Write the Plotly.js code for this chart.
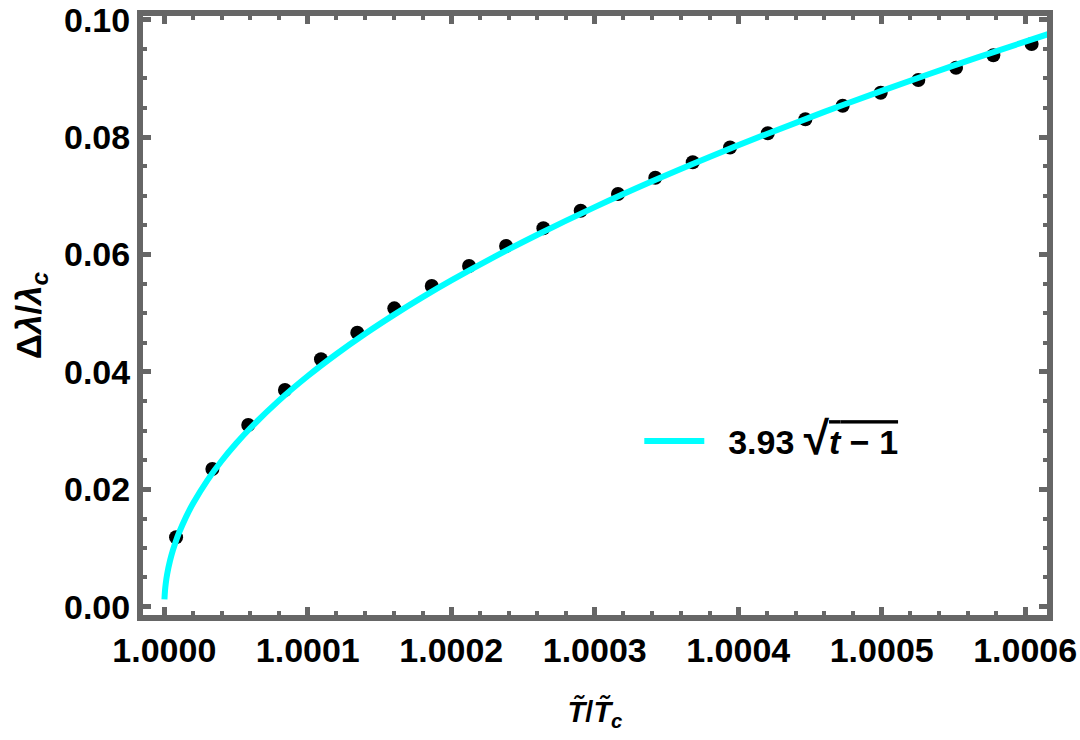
<!DOCTYPE html>
<html>
<head>
<meta charset="utf-8">
<script src="https://cdn.plot.ly/plotly-3.0.1.min.js"></script>
<style>html,body{margin:0;padding:0;background:#fff;}#chart{width:1080px;height:740px;}</style>
</head>
<body>
<div id="chart"></div>
<script>
// Data points (black dots)
const dotT = [1.0000082, 1.0000335, 1.0000585, 1.0000841, 1.0001092, 1.0001345, 1.0001603, 1.0001864,
  1.0002124, 1.0002382, 1.0002642, 1.0002902, 1.0003162, 1.0003422, 1.0003683, 1.0003943,
  1.0004206, 1.0004468, 1.0004728, 1.0004993, 1.0005255, 1.0005518, 1.0005778, 1.0006045];
const dotY = [0.01182, 0.02346, 0.03095, 0.03692, 0.04215, 0.04668, 0.05083, 0.05463,
  0.05804, 0.06145, 0.06446, 0.06746, 0.07031, 0.07308, 0.07571, 0.07823,
  0.08065, 0.08303, 0.08535, 0.08756, 0.08973, 0.09182, 0.09394, 0.09586];

// Fit curve samples (3.93 sqrt(t-1))
const fitT = [1.0000001, 1.0000005, 1.000001, 1.000002, 1.000004, 1.000006, 1.000008, 1.00001,
  1.000015, 1.00002, 1.00003, 1.00004, 1.00005, 1.00006, 1.00008, 1.0001,
  1.00012, 1.00014, 1.00016, 1.00018, 1.0002, 1.00023, 1.00026, 1.0003,
  1.00034, 1.00038, 1.00042, 1.00046, 1.0005, 1.00055, 1.0006, 1.00062];
const fitY = [0.00124, 0.00278, 0.00393, 0.00556, 0.00786, 0.00963, 0.01112, 0.01243,
  0.01522, 0.01757, 0.02153, 0.02486, 0.02779, 0.03044, 0.03515, 0.0393,
  0.04305, 0.0465, 0.04971, 0.05273, 0.05558, 0.0596, 0.06337, 0.06807,
  0.07247, 0.07661, 0.08054, 0.08429, 0.08788, 0.09217, 0.09626, 0.09786];

const xTickVals = [1.0, 1.0001, 1.0002, 1.0003, 1.0004, 1.0005, 1.0006];
const xTickText = ['1.0000', '1.0001', '1.0002', '1.0003', '1.0004', '1.0005', '1.0006'];
const yTickVals = [0, 0.02, 0.04, 0.06, 0.08, 0.1];
const yTickText = ['0.00', '0.02', '0.04', '0.06', '0.08', '0.10'];

const legendLabel = '\u00a0\u00a03.93 <span style="font-size:46px">√</span><span style="text-decoration:overline"><i>t</i> − 1</span>';
const xTitle = '<i>T̃</i>/<i>T̃</i><sub><i>c</i></sub>';
const yTitle = 'Δ<i>λ</i>/<i>λ</i><sub><i>c</i></sub>';

const FONT = 'Liberation Sans, Arial, sans-serif';
const FRAME = '#666666';

const traces = [
  {x: dotT, y: dotY, type: 'scatter', mode: 'markers',
   marker: {color: '#000000', size: 14}, showlegend: false},
  {x: fitT, y: fitY, type: 'scatter', mode: 'lines', name: legendLabel,
   line: {color: '#00FFFF', width: 6, shape: 'spline'}}
];

const axisCommon = {
  showline: true, linecolor: FRAME, linewidth: 6, mirror: 'allticks',
  ticks: 'inside', ticklen: 8, tickwidth: 5, tickcolor: FRAME,
  showgrid: false, zeroline: false,
  tickfont: {family: FONT, size: 34, weight: 'bold', color: '#000'},
};

const layout = {
  width: 1080, height: 740,
  margin: {l: 143, r: 33, t: 16, b: 125},
  paper_bgcolor: '#fff', plot_bgcolor: '#fff',
  font: {family: FONT, weight: 'bold', color: '#000'},
  xaxis: Object.assign({}, axisCommon, {
    range: [0.99998515, 1.0006152],
    tickvals: xTickVals, ticktext: xTickText,
    minor: {dtick: 0.00002, tick0: 1.0, ticks: 'inside', ticklen: 4, tickwidth: 4, tickcolor: FRAME},
    ticklabelstandoff: 0,
    title: {text: xTitle, font: {family: FONT, size: 29, weight: 'bold', color: '#000'}, standoff: 36}
  }),
  yaxis: Object.assign({}, axisCommon, {
    range: [-0.001414, 0.10063],
    tickvals: yTickVals, ticktext: yTickText,
    minor: {dtick: 0.005, tick0: 0, ticks: 'inside', ticklen: 4, tickwidth: 4, tickcolor: FRAME},
    ticklabelstandoff: 0,
    title: {text: yTitle, font: {family: FONT, size: 35, weight: 'bold', color: '#000'}, standoff: 14}
  }),
  showlegend: true,
  legend: {x: 0.549, y: 0.29, xanchor: 'left', yanchor: 'middle', bgcolor: 'rgba(0,0,0,0)',
    itemwidth: 60, font: {family: FONT, size: 34, weight: 'bold', color: '#000'}}
};

Plotly.newPlot('chart', traces, layout, {displayModeBar: false, staticPlot: true});
</script>
</body>
</html>
